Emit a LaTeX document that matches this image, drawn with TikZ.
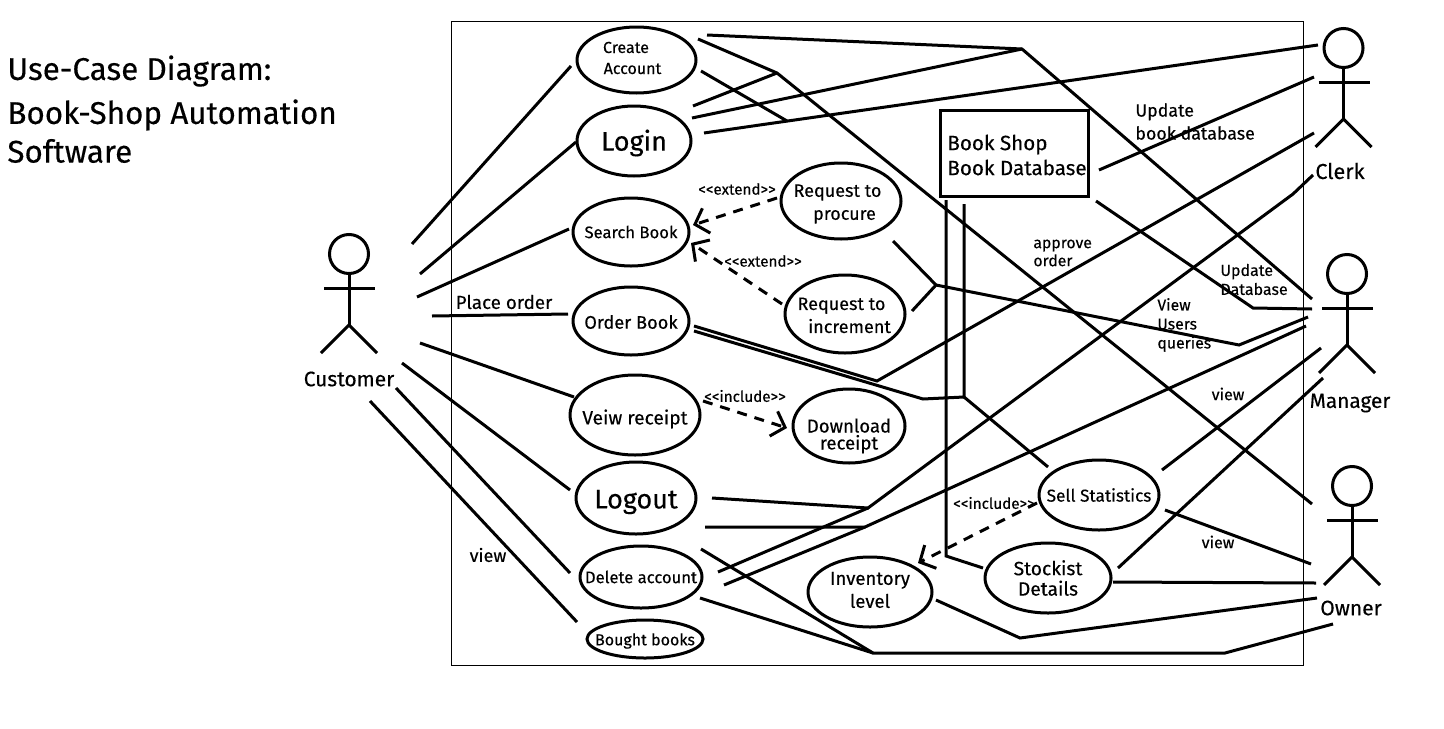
\documentclass[tikz,border=0pt]{standalone}
\usepackage{fontspec}
\setmainfont{Fira Sans}[FakeBold=0.3]
\usetikzlibrary{arrows.meta,shapes.geometric}
\newcommand{\fs}[2]{\fontsize{#1}{#2}\selectfont}
\newcommand{\low}[2]{\raisebox{-#1}[\height][\depth]{#2}}

\begin{document}
\begin{tikzpicture}[x=0.5pt,y=-0.5pt,
	usecase/.style={shape=ellipse,draw,line width=1.5pt,inner sep=-10pt,align=center},
	conn/.style={draw=black,line width=1.5pt},
	dep/.style={draw=black,line width=1.5pt,dash pattern=on 5pt off 4pt,-{Straight Barb[length=6pt,width=13pt]}},
	lbl/.style={inner sep=0pt,align=left,anchor=west},
	stereo/.style={inner sep=0pt,font=\fs{7.6}{9}}]
	\useasboundingbox (0,0) rectangle (1444,728);
	\node[draw,line width=0.5pt,inner sep=0pt,minimum width=426pt,minimum height=322pt] (systembox) at (877,343) {};
	%title
	\node[lbl,font=\fs{15.7}{18}] (titleA) at (7,71) {Use-Case Diagram:};
	\node[lbl,font=\fs{15.7}{18}] (titleB) at (7,115) {Book-Shop Automation};
	\node[lbl,font=\fs{15.7}{18}] (titleC) at (7,151) {Software};
	%use cases
	\node[usecase,minimum width=59.5pt,minimum height=33pt,font=\fs{8}{10.5}] (createaccount) at (636.5,60) {\hspace*{-10.5pt}\low{-1pt}{Create}\\\hspace*{-4pt}\low{-1pt}{Account}};
	\node[usecase,minimum width=57pt,minimum height=35pt,font=\fs{13.5}{16}] (login) at (634,141) {\low{1pt}{Login}};
	\node[usecase,minimum width=58pt,minimum height=34pt,font=\fs{8.3}{10}] (searchbook) at (631,232) {Search Book};
	\node[usecase,minimum width=58pt,minimum height=34pt,font=\fs{9.1}{11}] (orderbook) at (631,321) {\low{0.5pt}{Order Book}};
	\node[usecase,minimum width=60pt,minimum height=38pt,font=\fs{9}{11.5}] (procure) at (841,201) {\hspace*{-3.5pt}\low{1.5pt}{Request to}\\\hspace*{3.5pt}\low{1.5pt}{procure}};
	\node[usecase,minimum width=60pt,minimum height=39pt,font=\fs{9}{11.5}] (increment) at (845,314) {\hspace*{-3.5pt}\low{0.7pt}{Request to}\\\hspace*{4.5pt}\low{0.7pt}{increment}};
	\node[usecase,minimum width=65pt,minimum height=40pt,font=\fs{9.6}{11}] (veiwreceipt) at (635,415) {\low{2pt}{Veiw receipt}};
	\node[usecase,minimum width=56pt,minimum height=37pt,font=\fs{9.3}{8.5}] (download) at (849,426) {\low{5pt}{Download}\\\low{5pt}{receipt}};
	\node[usecase,minimum width=60pt,minimum height=36pt,font=\fs{13.5}{16}] (logout) at (636,498) {\low{2pt}{Logout}};
	\node[usecase,minimum width=61pt,minimum height=31pt,font=\fs{8.3}{10}] (deleteaccount) at (641,577) {Delete account};
	\node[usecase,minimum width=58pt,minimum height=19pt,font=\fs{8}{9}] (boughtbooks) at (645,639) {\low{1pt}{Bought books}};
	\node[usecase,minimum width=62pt,minimum height=35pt,font=\fs{9.3}{11.5}] (inventory) at (870,592) {\low{-1pt}{Inventory}\\\low{-1pt}{level}};
	\node[usecase,minimum width=63pt,minimum height=35pt,font=\fs{9.6}{10.2}] (stockist) at (1048,578) {Stockist\\Details};
	\node[usecase,minimum width=60pt,minimum height=35pt,font=\fs{8.6}{10}] (sellstat) at (1099,495) {Sell Statistics};
	%database
	\node[draw,line width=1.5pt,inner sep=0pt,minimum width=74pt,minimum height=43pt,font=\fs{10.3}{12.5},align=left] (bookdb) at (1014,153) {\hspace*{3pt}\low{1pt}{Book Shop}\\\hspace*{3pt}\low{1pt}{Book Database}};
	%actors
	\foreach \who/\hx/\hy in {customer/349/254,clerk/1343.5/48,manager/1347/274,owner/1352/486} {
		\node[draw,shape=circle,line width=1.5pt,inner sep=0pt,minimum size=19.5pt] (\who) at (\hx,\hy) {};
		\coordinate (\who hip) at (\hx,\hy+71);
		\coordinate (\who armL) at (\hx-25,\hy+34);
		\coordinate (\who armR) at (\hx+26,\hy+34);
		\coordinate (\who legL) at (\hx-28,\hy+99);
		\coordinate (\who legR) at (\hx+28,\hy+99);
		\draw[conn] (\who) -- (\who hip);
		\draw[conn] (\who armL) -- (\who armR);
		\draw[conn] (\who legL) -- (\who hip) -- (\who legR);
	}
	\node[font=\fs{10.5}{12},inner sep=0pt] (customertext) at (349,379) {Customer};
	\node[font=\fs{10.8}{12},inner sep=0pt] (clerktext) at (1340,171) {Clerk};
	\node[font=\fs{10.4}{12},inner sep=0pt] (managertext) at (1350,403) {Manager};
	\node[font=\fs{10.5}{12},inner sep=0pt] (ownertext) at (1351,608) {Owner};
	%labels
	\node[inner sep=0pt,font=\fs{9.4}{11}] (placeorder) at (504,302) {Place order};
	\node[inner sep=0pt,font=\fs{9}{11}] (viewA) at (488,555) {view};
	\node[lbl,font=\fs{8.9}{11.5}] (updatebook) at (1135,121.5) {Update\\book database};
	\node[lbl,font=\fs{7.9}{9}] (approve) at (1033,253) {approve\\order};
	\node[lbl,font=\fs{8}{9.5}] (updatedb) at (1220,279.5) {Update\\Database};
	\node[lbl,font=\fs{7.9}{9.5}] (viewusers) at (1157,325) {View\\Users\\queries};
	\node[inner sep=0pt,font=\fs{8}{10}] (viewB) at (1228,394) {view};
	\node[inner sep=0pt,font=\fs{8}{10}] (viewC) at (1218,542) {view};
	\node[stereo] (extendA) at (737,189) {<{}<extend>{}>};
	\node[stereo] (extendB) at (763,261) {<{}<extend>{}>};
	\node[stereo] (includeA) at (745,396) {<{}<include>{}>};
	\node[stereo] (includeB) at (994,503) {<{}<include>{}>};
	%free ends
	\coordinate (cA) at (412,244); \coordinate (uA) at (571,66);
	\coordinate (cB) at (420,274); \coordinate (uB) at (576,142);
	\coordinate (cC) at (417,297); \coordinate (uC) at (569,229);
	\coordinate (cD) at (432,316); \coordinate (uD) at (568,314);
	\coordinate (cE) at (420,343); \coordinate (uE) at (574,397);
	\coordinate (cF) at (402,363); \coordinate (uF) at (570,490);
	\coordinate (cG) at (396,388); \coordinate (uG) at (570,573);
	\coordinate (cH) at (370,401); \coordinate (uH) at (577,622);
	\coordinate (jTop) at (1022,49); \coordinate (jCreate) at (777,73);
	\coordinate (createA) at (707,35); \coordinate (createB) at (698,39); \coordinate (createC) at (701,71); \coordinate (createD) at (787,121);
	\coordinate (loginA) at (693,106); \coordinate (loginB) at (692,118); \coordinate (loginC) at (704,133);
	\coordinate (mgrA) at (1312,299); \coordinate (ownA) at (1312,504); \coordinate (clkA) at (1318,45);
	\coordinate (dbA) at (1099,170); \coordinate (clkB) at (1314,77);
	\coordinate (dbB) at (1096,201); \coordinate (kDb) at (1253,308); \coordinate (mgrB) at (1312,309);
	\coordinate (orderA) at (694,326); \coordinate (kOrdA) at (877,381); \coordinate (clkC) at (1314,133);
	\coordinate (orderB) at (694,331); \coordinate (kOrdB) at (923,399); \coordinate (jDb) at (964,397);
	\coordinate (dbC) at (964,204); \coordinate (sellA) at (1048,467);
	\coordinate (dbD) at (946,200); \coordinate (kStock) at (946,556); \coordinate (stockA) at (983,568);
	\coordinate (procA) at (893,241); \coordinate (incrA) at (912,311); \coordinate (jReq) at (936,285);
	\coordinate (kReq) at (1239,345); \coordinate (mgrC) at (1308,317);
	\coordinate (logA) at (712,498); \coordinate (jLogA) at (868,508); \coordinate (kClk) at (1293,194); \coordinate (clkD) at (1313,175);
	\coordinate (delA) at (718,572);
	\coordinate (logB) at (705,527); \coordinate (jLogB) at (865,527); \coordinate (mgrD) at (1306,326); \coordinate (delB) at (724,585);
	\coordinate (delC) at (701,549); \coordinate (delD) at (700,598); \coordinate (jDel) at (873,653); \coordinate (kDel) at (1225,653); \coordinate (ownB) at (1333,624);
	\coordinate (invA) at (936,600); \coordinate (kInv) at (1020,638); \coordinate (ownC) at (1317,598);
	\coordinate (sellB) at (1162,470); \coordinate (mgrE) at (1321,348);
	\coordinate (sellC) at (1165,510); \coordinate (ownD) at (1311,564);
	\coordinate (stockB) at (1118,568); \coordinate (mgrF) at (1323,378);
	\coordinate (stockC) at (1113,582); \coordinate (ownE) at (1316,583);
	%edges
	\draw[conn] (cA) -- (uA);
	\draw[conn] (cB) -- (uB);
	\draw[conn] (cC) -- (uC);
	\draw[conn] (cD) -- (uD);
	\draw[conn] (cE) -- (uE);
	\draw[conn] (cF) -- (uF);
	\draw[conn] (cG) -- (uG);
	\draw[conn] (cH) -- (uH);
	\draw[conn] (createA) -- (jTop) -- (mgrA);
	\draw[conn] (loginB) -- (jTop);
	\draw[conn] (createB) -- (jCreate) -- (ownA);
	\draw[conn] (loginA) -- (jCreate);
	\draw[conn] (createC) -- (createD);
	\draw[conn] (loginC) -- (clkA);
	\draw[conn] (dbA) -- (clkB);
	\draw[conn] (dbB) -- (kDb) -- (mgrB);
	\draw[conn] (orderA) -- (kOrdA) -- (clkC);
	\draw[conn] (orderB) -- (kOrdB) -- (jDb) -- (dbC);
	\draw[conn] (jDb) -- (sellA);
	\draw[conn] (dbD) -- (kStock) -- (stockA);
	\draw[conn] (procA) -- (jReq) -- (incrA);
	\draw[conn] (jReq) -- (kReq) -- (mgrC);
	\draw[conn] (logA) -- (jLogA) -- (kClk) -- (clkD);
	\draw[conn] (delA) -- (jLogA);
	\draw[conn] (logB) -- (jLogB) -- (mgrD);
	\draw[conn] (delB) -- (jLogB);
	\draw[conn] (delC) -- (jDel) -- (kDel) -- (ownB);
	\draw[conn] (delD) -- (jDel);
	\draw[conn] (invA) -- (kInv) -- (ownC);
	\draw[conn] (sellB) -- (mgrE);
	\draw[conn] (sellC) -- (ownD);
	\draw[conn] (stockB) -- (mgrF);
	\draw[conn] (stockC) -- (ownE);
	%dependencies
	\coordinate (procB) at (777,198); \coordinate (searchA) at (693,225);
	\coordinate (incrB) at (782,304); \coordinate (searchB) at (691,243);
	\coordinate (veiwA) at (703,401); \coordinate (downA) at (787,428);
	\coordinate (sellD) at (1037,503); \coordinate (invB) at (918,563);
	\draw[dep] (procB) -- (searchA);
	\draw[dep] (incrB) -- (searchB);
	\draw[dep] (veiwA) -- (downA);
	\draw[dep] (sellD) -- (invB);
\end{tikzpicture}
\end{document}
